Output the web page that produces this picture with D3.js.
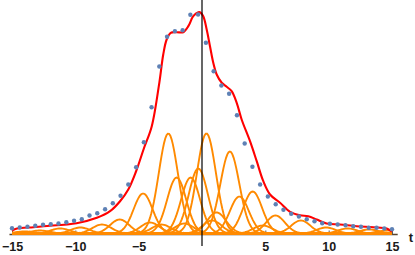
<!DOCTYPE html>
<html>
<head>
<meta charset="utf-8">
<script src="https://cdn.jsdelivr.net/npm/d3@7"></script>
<style>
  html, body { margin: 0; padding: 0; background: #fff; }
  #app { width: 415px; height: 255px; }
  text { font-family: "Liberation Sans", Arial, sans-serif; }
</style>
</head>
<body>
<div id="app"></div>
<script>
// sample points (blue dots)
const dotT = [-15, -14.39, -13.78, -13.16, -12.55, -11.94, -11.33, -10.71, -10.10, -9.49,
              -8.88, -8.27, -7.65, -7.04, -6.43, -5.82, -5.20, -4.59, -3.98, -3.37,
              -2.76, -2.14, -1.53, -0.92, -0.31, 0.31, 0.92, 1.53, 2.14, 2.76,
              3.37, 3.98, 4.59, 5.20, 5.82, 6.43, 7.04, 7.65, 8.27, 8.88,
              9.49, 10.10, 10.71, 11.33, 11.94, 12.55, 13.16, 13.78, 14.39, 15];
const dotY = [0.053, 0.06, 0.067, 0.077, 0.087, 0.093, 0.10, 0.113, 0.127, 0.143,
              0.18, 0.203, 0.243, 0.303, 0.377, 0.49, 0.663, 0.913, 1.263, 1.67,
              1.967, 2.023, 2.033, 2.187, 2.19, 1.907, 1.623, 1.48, 1.397, 1.183,
              0.90, 0.667, 0.49, 0.37, 0.293, 0.237, 0.197, 0.17, 0.143, 0.123,
              0.103, 0.097, 0.09, 0.083, 0.073, 0.067, 0.057, 0.057, 0.05, 0.043];

// fitted curve (red)
const fitT = [-15, -14.6, -13.3, -12.5, -9.9, -8.3, -7.26, -6.47, -5.82, -5.21,
              -4.59, -3.97, -3.37, -3.06, -2.79, -2.47, -2.0, -1.48, -1.08, -0.69,
              -0.29, -0.16, 0.10, 0.37, 0.63, 0.89, 1.16, 1.56, 1.95, 2.34,
              2.74, 3.13, 3.79, 4.32, 4.84, 5.37, 6.16, 6.95, 7.74, 8.39,
              9.06, 9.84, 10.89, 12.21, 13.52, 14.58, 15];
const fitY = [0.03, 0.05, 0.063, 0.073, 0.103, 0.157, 0.223, 0.323, 0.44, 0.62,
              0.85, 1.07, 1.507, 1.79, 1.94, 2.007, 2.013, 2.013, 2.073, 2.173,
              2.213, 2.213, 2.173, 2.04, 1.873, 1.707, 1.59, 1.507, 1.467, 1.423,
              1.307, 1.14, 0.923, 0.723, 0.523, 0.39, 0.307, 0.217, 0.183, 0.173,
              0.14, 0.10, 0.09, 0.073, 0.063, 0.05, 0.017];

// gaussian components (orange): centre, height, width
const compCenter = [-14.0, -12.8, -11.2, -9.6, -7.9, -6.5, -4.65, -4.1, -3.2, -2.66,
                    -2.0, -1.4, -0.9, -0.29, 0.35, 0.8, 1.15, 2.2, 2.95, 4.0,
                    4.8, 5.8, 7.8, 9.8, 11.5, 13.2, 14.6];
const compHeight = [0.02, 0.03, 0.05, 0.06, 0.09, 0.14, 0.40, 0.11, 0.09, 1.0,
                    0.56, 0.10, 0.56, 0.65, 1.0, 0.13, 0.21, 0.82, 0.37, 0.42,
                    0.08, 0.18, 0.13, 0.06, 0.05, 0.04, 0.03];
const compWidth = 0.75;

const majorTicks = [-15, -10, -5, 0, 5, 10, 15];
const minorTicks = d3.range(-15, 16, 1).filter(v => v % 5 !== 0);

const width = 415;
const height = 255;

const svg = d3.select('#app')
  .append('svg')
  .attr('width', width)
  .attr('height', height);

// plot scales
const x = d3.scaleLinear().domain([-15, 15]).range([12, 392]);
const y = d3.scaleLinear().domain([0, 2.2]).range([233.5, 13.5]);

// horizontal axis
const axisY = y(0) + 1;
svg.append('line')
   .attr('x1', x(-15.2))
   .attr('x2', x(15.45))
   .attr('y1', axisY)
   .attr('y2', axisY)
   .attr('stroke', '#5a4630')
   .attr('stroke-width', 1.4);

const tickAxis = svg.append('g')
  .attr('transform', `translate(0, ${axisY})`)
  .call(d3.axisTop(x).tickValues(majorTicks).tickSize(4).tickFormat(''));
const minorAxis = svg.append('g')
  .attr('transform', `translate(0, ${axisY})`)
  .call(d3.axisTop(x).tickValues(minorTicks).tickSize(2.5).tickFormat(''));
[tickAxis, minorAxis].forEach(g => {
  g.select('.domain').remove();
  g.selectAll('line').attr('stroke', '#555');
});

const labelAxis = svg.append('g')
  .attr('transform', `translate(0, ${axisY})`)
  .call(d3.axisBottom(x).tickValues(majorTicks).tickSize(0).tickPadding(8)
          .tickFormat(d => d === 0 ? '' : d3.format('d')(d)));
labelAxis.select('.domain').remove();
labelAxis.selectAll('text')
  .attr('font-family', '"Liberation Sans", Arial, sans-serif')
  .attr('font-size', 12.5)
  .attr('font-weight', 'bold')
  .attr('fill', '#1a1a1a');

svg.append('text')
   .attr('x', 411)
   .attr('y', axisY + 7)
   .attr('text-anchor', 'middle')
   .attr('font-size', 13)
   .attr('font-weight', 'bold')
   .attr('fill', '#1a1a1a')
   .text('t');

// orange components
const grid = d3.range(0, 301).map(i => -15 + i * 0.1);
const compLine = d3.line()
  .x(d => x(d[0]))
  .y(d => y(d[1]));

svg.append('g')
  .selectAll('path')
  .data(compCenter.map((c, i) => ({ c, h: compHeight[i] })))
  .join('path')
  .attr('d', d => compLine(grid.map(t => [t, d.h * Math.exp(-((t - d.c) ** 2) / (2 * compWidth * compWidth))])))
  .attr('fill', 'none')
  .attr('stroke', '#ff8a00')
  .attr('stroke-width', 1.9);

// red fitted curve
const fitLine = d3.line()
  .x(d => x(d[0]))
  .y(d => y(d[1]))
  .curve(d3.curveCatmullRom.alpha(0.5));

svg.append('path')
   .datum(fitT.map((t, i) => [t, fitY[i]]))
   .attr('d', fitLine)
   .attr('fill', 'none')
   .attr('stroke', '#ff0000')
   .attr('stroke-width', 2.1);

// vertical line at t = 0
svg.append('line')
   .attr('x1', x(0))
   .attr('x2', x(0))
   .attr('y1', 0)
   .attr('y2', axisY + 11.5)
   .attr('stroke', '#000')
   .attr('stroke-width', 1.2);

// blue dots
svg.append('g')
  .selectAll('circle')
  .data(dotT.map((t, i) => [t, dotY[i]]))
  .join('circle')
  .attr('cx', d => x(d[0]))
  .attr('cy', d => y(d[1]))
  .attr('r', 2.2)
  .attr('fill', '#5e81b5');
</script>
</body>
</html>
